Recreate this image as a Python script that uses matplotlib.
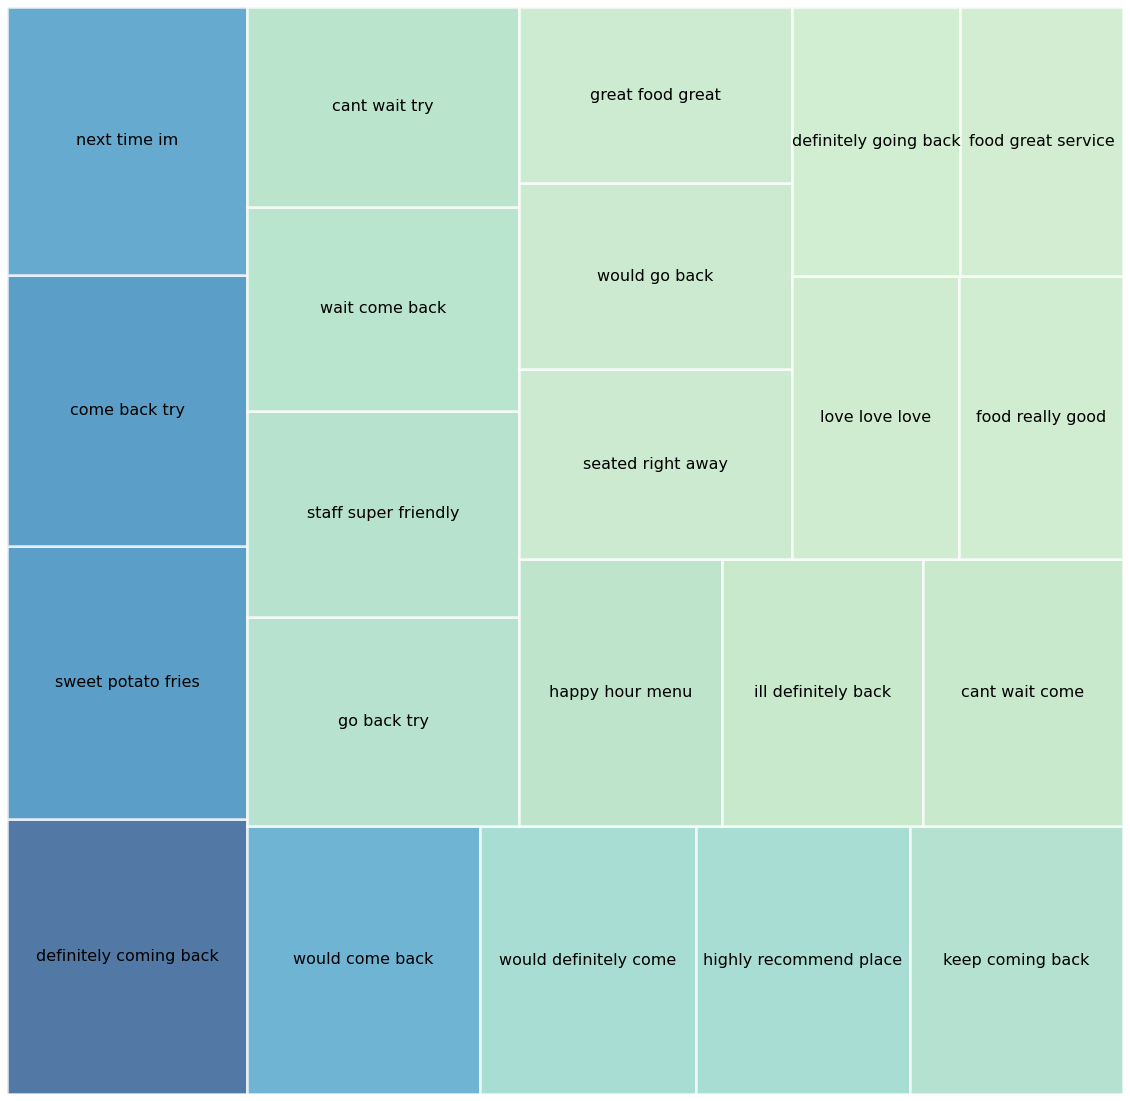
import matplotlib
matplotlib.use("Agg")
import matplotlib.pyplot as plt

labels = ["definitely coming back", "sweet potato fries", "come back try", "next time im",
          "would come back", "would definitely come", "highly recommend place", "keep coming back",
          "go back try", "staff super friendly", "wait come back", "cant wait try",
          "happy hour menu", "ill definitely back", "cant wait come",
          "seated right away", "would go back", "great food great",
          "love love love", "food really good",
          "definitely going back", "food great service"]
sizes = [66000, 65520, 65040, 64320,
         62444, 57888, 57352, 57084,
         56848, 56032, 55488, 54400,
         54201, 53667, 53400,
         51870, 50778, 48048,
         47261, 46412,
         45192, 43847]
color_values = [1.0, 0.825, 0.825, 0.77,
                0.72, 0.48, 0.48, 0.43,
                0.425, 0.415, 0.41, 0.403,
                0.387, 0.34, 0.34,
                0.33, 0.33, 0.32,
                0.31, 0.305,
                0.30, 0.296]


def normalize_sizes(sz, dx, dy):
    total = sum(sz)
    return [s * dx * dy / total for s in sz]


def layoutrow(sz, x, y, dx, dy):
    width = sum(sz) / dy
    rects = []
    for s in sz:
        rects.append((x, y, width, s / width))
        y += s / width
    return rects


def layoutcol(sz, x, y, dx, dy):
    height = sum(sz) / dx
    rects = []
    for s in sz:
        rects.append((x, y, s / height, height))
        x += s / height
    return rects


def layout(sz, x, y, dx, dy):
    return layoutrow(sz, x, y, dx, dy) if dx >= dy else layoutcol(sz, x, y, dx, dy)


def leftover(sz, x, y, dx, dy):
    if dx >= dy:
        w = sum(sz) / dy
        return x + w, y, dx - w, dy
    h = sum(sz) / dx
    return x, y + h, dx, dy - h


def worst_ratio(sz, x, y, dx, dy):
    return max(max(r[2] / r[3], r[3] / r[2]) for r in layout(sz, x, y, dx, dy))


def squarify(sz, x, y, dx, dy):
    if len(sz) == 0:
        return []
    if len(sz) == 1:
        return layout(sz, x, y, dx, dy)
    i = 1
    while i < len(sz) and worst_ratio(sz[:i], x, y, dx, dy) >= worst_ratio(sz[:i + 1], x, y, dx, dy):
        i += 1
    cur, rem = sz[:i], sz[i:]
    lx, ly, ldx, ldy = leftover(cur, x, y, dx, dy)
    return layout(cur, x, y, dx, dy) + squarify(rem, lx, ly, ldx, ldy)


W = H = 100.0
rects = squarify(normalize_sizes(sizes, W, H), 0, 0, W, H)

cmap = plt.get_cmap("GnBu")
fig = plt.figure(figsize=(11.30, 11.01), dpi=100)
ax = fig.add_axes([7 / 1130, 7 / 1101, 1116 / 1130, 1087 / 1101])
for (x, y, dx, dy), lab, cv in zip(rects, labels, color_values):
    ax.bar(x, dy, width=dx, bottom=y, align="edge", color=cmap(cv), alpha=0.7,
           edgecolor="white", linewidth=2)
    ax.text(x + dx / 2, y + dy / 2, lab, ha="center", va="center", fontsize=11.5, color="black")
ax.set_xlim(0, W)
ax.set_ylim(0, H)
ax.axis("off")
fig.savefig("out.png", dpi=100)
